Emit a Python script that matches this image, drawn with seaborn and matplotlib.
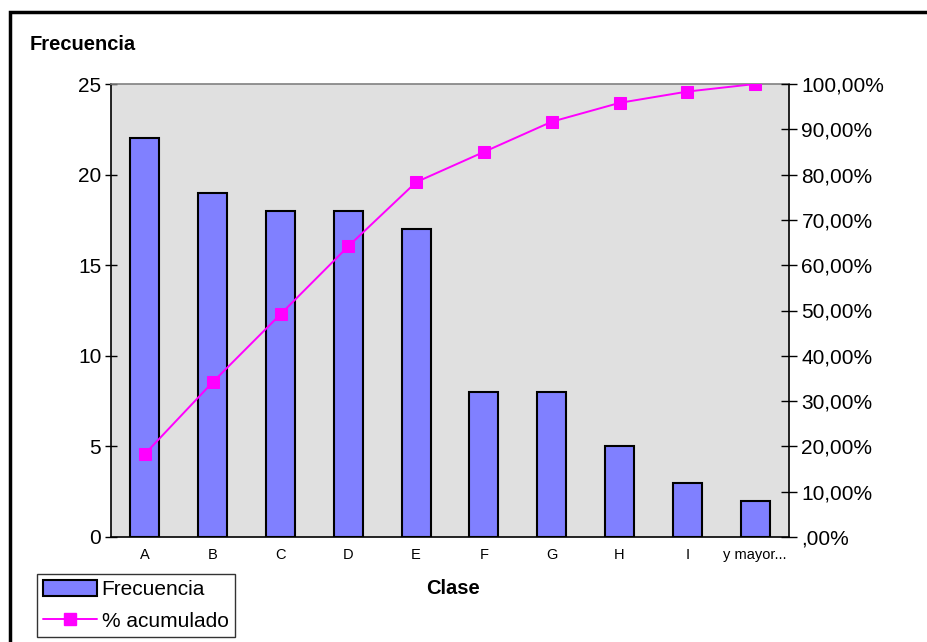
import numpy as np
import pandas as pd
import matplotlib
matplotlib.use("Agg")
import matplotlib.pyplot as plt
from matplotlib.patches import Rectangle, Patch
from matplotlib.lines import Line2D
from matplotlib.ticker import FuncFormatter, MultipleLocator, FixedLocator
import seaborn as sns

# Data
clases = ["A", "B", "C", "D", "E", "F", "G", "H", "I", "y mayor..."]
frecuencia = [22, 19, 18, 18, 17, 8, 8, 5, 3, 2]
pct_acumulado = [18.33, 34.17, 49.17, 64.17, 78.33, 85.00, 91.67, 95.83, 98.33, 100.00]

sns.set_theme(style="white")
plt.rcParams["font.family"] = ["Liberation Sans", "DejaVu Sans"]
plt.rcParams["text.color"] = "black"
plt.rcParams["xtick.color"] = "black"
plt.rcParams["ytick.color"] = "black"

BAR = "#8080FF"
LINE = "#FF00FF"
BG = "#E0E0E0"

fig = plt.figure(figsize=(9.27, 6.42), dpi=100)
ax = fig.add_axes([111 / 927, 1 - 537 / 642, (789 - 111) / 927, (537 - 84) / 642])
ax.set_facecolor(BG)

df = pd.DataFrame({"Clase": clases, "Frecuencia": frecuencia})
sns.barplot(data=df, x="Clase", y="Frecuencia", color=BAR, saturation=1,
            width=0.43, edgecolor="black", linewidth=1.5, ax=ax, zorder=2)

ax.set_xlim(-0.5, len(clases) - 0.5)
ax.set_ylim(0, 25)
ax.yaxis.set_major_locator(MultipleLocator(5))
ax.tick_params(axis="y", labelsize=15, length=8, width=1, direction="inout",
               colors="black", pad=3)

# category labels sit between the boundary ticks
ax.xaxis.set_major_locator(FixedLocator(np.arange(-0.5, len(clases), 1.0)))
ax.xaxis.set_major_formatter(FuncFormatter(lambda v, p: ""))
ax.set_xticks(np.arange(len(clases)), labels=clases, minor=True)
ax.tick_params(axis="x", which="major", length=6, width=1, direction="out", colors="black")
ax.tick_params(axis="x", which="minor", length=0, labelsize=10.5, pad=8, colors="black")
ax.set_xlabel("")
ax.set_ylabel("")

for side in ["left", "bottom", "right"]:
    ax.spines[side].set_color("black")
    ax.spines[side].set_linewidth(1.2)
ax.spines["top"].set_color("#808080")
ax.spines["top"].set_linewidth(1.2)

ax2 = ax.twinx()
sns.lineplot(x=np.arange(len(clases)), y=pct_acumulado, color=LINE, marker="s",
             markersize=8.5, markeredgecolor=LINE, linewidth=1.4, ax=ax2, zorder=3)
ax2.set_ylim(0, 100)
ax2.yaxis.set_major_locator(MultipleLocator(10))


def pct_fmt(v, pos):
    s = ("%.2f%%" % v).replace(".", ",")
    return s[1:] if s.startswith("0,") else s


ax2.yaxis.set_major_formatter(FuncFormatter(pct_fmt))
ax2.tick_params(axis="y", labelsize=15, length=12, width=1, direction="inout",
                colors="black", pad=3)
ax2.set_ylabel("")
for side in ["left", "bottom", "right", "top"]:
    ax2.spines[side].set_visible(False)

fig.text(30 / 927, 1 - 44 / 642, "Frecuencia", fontsize=14.5, fontweight="bold",
         ha="left", va="center", color="black")
fig.text(453 / 927, 1 - 588 / 642, "Clase", fontsize=14.5, fontweight="bold",
         ha="center", va="center", color="black")

handles = [
    Patch(facecolor=BAR, edgecolor="black", linewidth=1.5, label="Frecuencia"),
    Line2D([0], [0], color=LINE, marker="s", markersize=8.5, linewidth=1.4,
           label="% acumulado"),
]
leg = fig.legend(handles=handles, loc="lower left",
                 bbox_to_anchor=(37 / 927, 1 - 637 / 642), fontsize=15,
                 frameon=True, fancybox=False, edgecolor="black",
                 handlelength=2.6, handleheight=0.8, handletextpad=0.2,
                 borderpad=0.3, labelspacing=0.6, borderaxespad=0)
leg.get_frame().set_linewidth(1.0)
for t in leg.get_texts():
    t.set_color("black")

# outer chart frame
fig.patches.append(Rectangle((10 / 927, -0.1), 1.2, 1 - 12 / 642 + 0.1,
                             transform=fig.transFigure, fill=False,
                             edgecolor="black", linewidth=2.5, zorder=0))

fig.savefig("out.png", dpi=100)
